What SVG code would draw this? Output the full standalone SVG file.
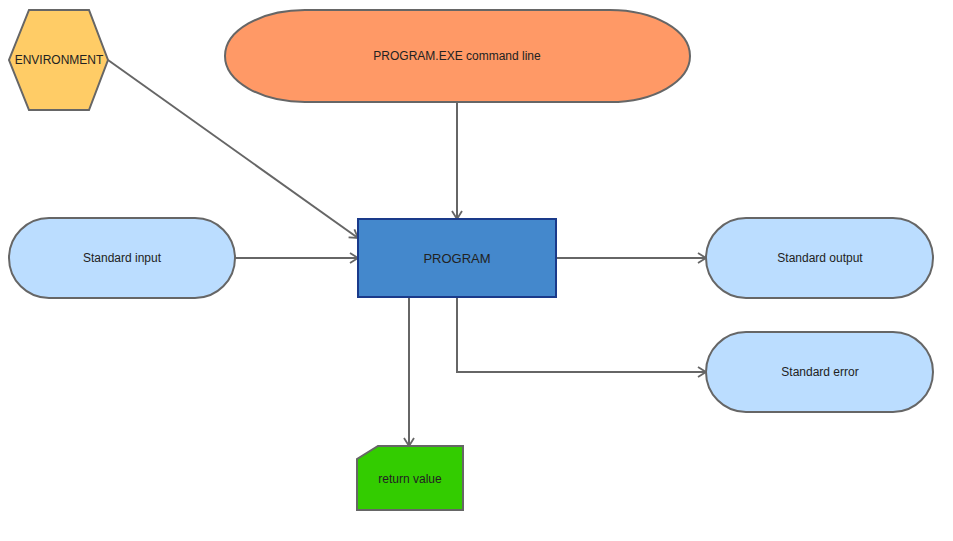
<svg xmlns="http://www.w3.org/2000/svg" width="953" height="541" viewBox="0 0 953 541">
<style>
.n{stroke:#666;stroke-width:2}
.t{font-family:"Liberation Sans",Arial,sans-serif;font-size:12px;fill:#222;text-anchor:middle;dominant-baseline:central}
.c{fill:none;stroke:#666;stroke-width:2}
</style>
<defs>
<marker id="a" markerWidth="12" markerHeight="12" refX="10" refY="6" orient="auto" markerUnits="userSpaceOnUse">
<path d="M2,1 L10,6 L2,11" fill="none" stroke="#666" stroke-width="1.8"/>
</marker>
</defs>
<rect width="953" height="541" fill="#fff"/>
<g id="connectors">
<path class="c" d="M108,60 L358,238" marker-end="url(#a)"/>
<path class="c" d="M457,102 L457,219" marker-end="url(#a)"/>
<path class="c" d="M235,258 L358,258" marker-end="url(#a)"/>
<path class="c" d="M556,258 L706,258" marker-end="url(#a)"/>
<path class="c" d="M457,297 L457,372 L706,372" marker-end="url(#a)"/>
<path class="c" d="M409,297 L409,446" marker-end="url(#a)"/>
</g>
<g id="environment">
<polygon class="n" points="29,10 89,10 108,60 89,110 29,110 9,60" fill="#ffcc66"/>
<text class="t" x="59" y="60">ENVIRONMENT</text>
</g>
<g id="cmdline">
<rect class="n" x="225" y="10" width="465" height="92" rx="80" ry="46" fill="#ff9966"/>
<text class="t" x="457" y="56">PROGRAM.EXE command line</text>
</g>
<g id="program">
<rect x="358" y="219" width="198" height="78" fill="#4488cc" stroke="#1a3a8a" stroke-width="2"/>
<text class="t" x="457" y="258" style="font-size:13px">PROGRAM</text>
</g>
<g id="stdin">
<rect class="n" x="9" y="218" width="226" height="80" rx="40" ry="40" fill="#bbddff"/>
<text class="t" x="122" y="258">Standard input</text>
</g>
<g id="stdout">
<rect class="n" x="706" y="218" width="227" height="80" rx="40" ry="40" fill="#bbddff"/>
<text class="t" x="820" y="258">Standard output</text>
</g>
<g id="stderr">
<rect class="n" x="706" y="332" width="227" height="80" rx="40" ry="40" fill="#bbddff"/>
<text class="t" x="820" y="372">Standard error</text>
</g>
<g id="retval">
<polygon class="n" points="378,446 463,446 463,510 357,510 357,459" fill="#33cc00"/>
<text class="t" x="410" y="479">return value</text>
</g>
</svg>
